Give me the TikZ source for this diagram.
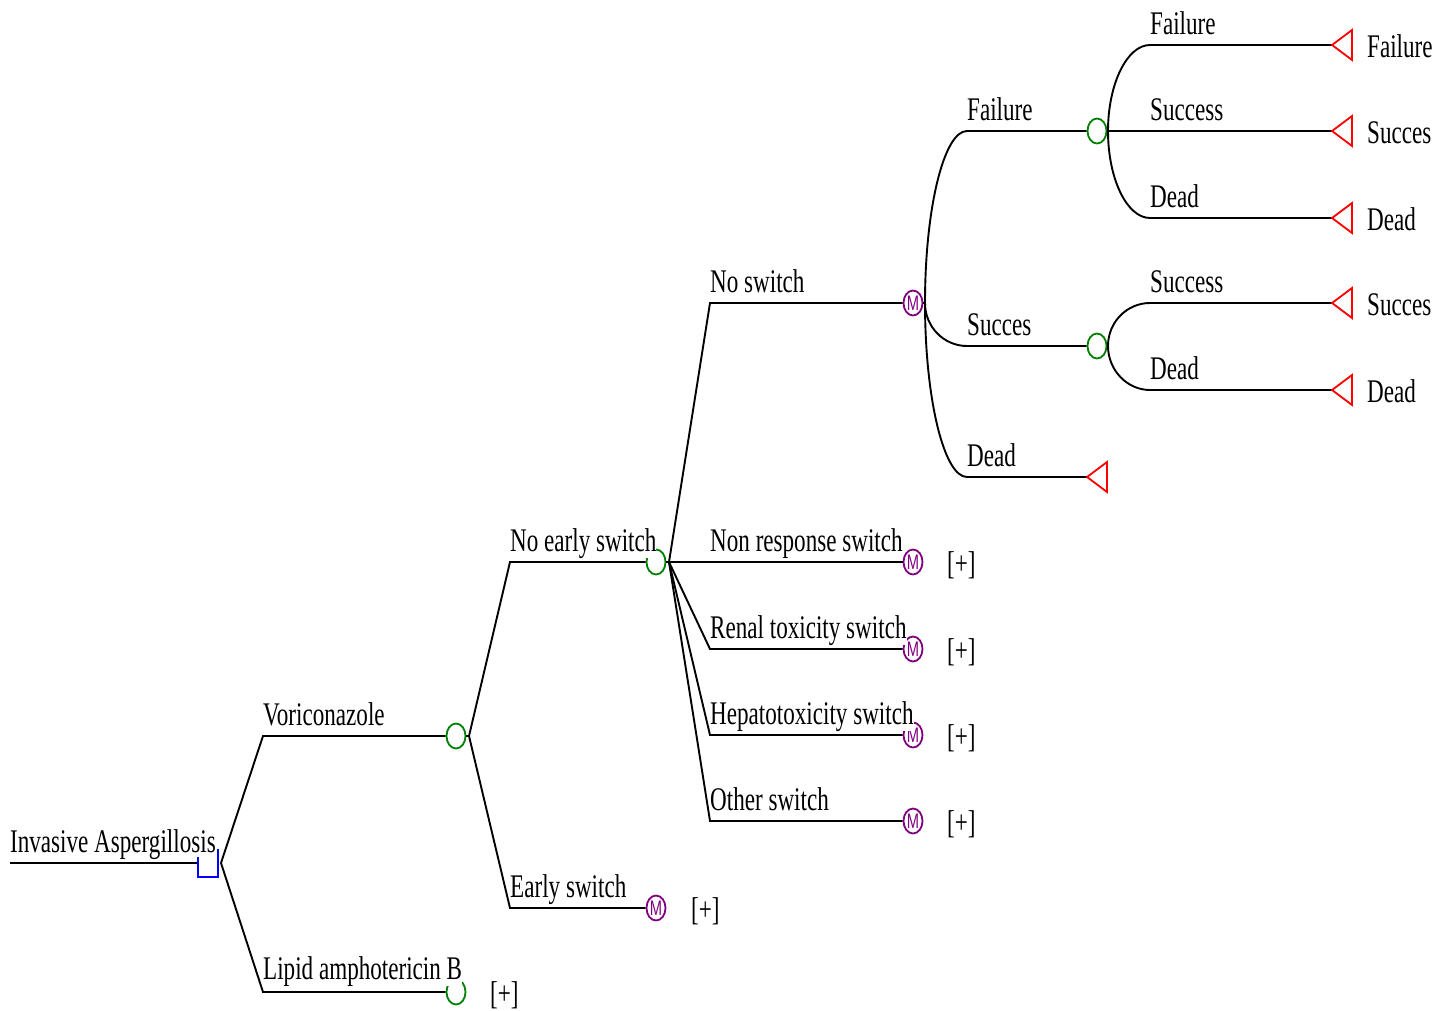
\documentclass[tikz,border=0pt]{standalone}
\usepackage{fontspec}
\setmainfont{Liberation Serif}[FakeStretch=0.70]
\newfontfamily\mfont{Liberation Sans}[FakeStretch=0.7]
\usetikzlibrary{shapes.geometric}
\definecolor{chgreen}{RGB}{0,128,0}
\definecolor{mpurple}{RGB}{128,0,128}
\definecolor{decblue}{RGB}{0,0,255}
\definecolor{termred}{RGB}{255,0,0}
\begin{document}
\begin{tikzpicture}[x=1pt,y=-1pt,
  br/.style={line width=1.9pt, black},
  chance/.style={ellipse, draw=chgreen, line width=1.8pt, minimum width=19pt, minimum height=25pt, inner sep=0pt},
  markov/.style={ellipse, draw=mpurple, line width=1.8pt, minimum width=19pt, minimum height=25pt, inner sep=0pt, text=mpurple, font=\mfont\fontsize{21}{21}\selectfont},
  lbl/.style={anchor=base west, inner sep=0pt, fill=white, font=\fontsize{33}{36}\selectfont},
  plus/.style={anchor=west, inner sep=0pt, font=\fontsize{33}{36}\selectfont},
  term/.style={draw=termred, line width=1.8pt},
  decision/.style={draw=decblue, line width=1.8pt}
]
\useasboundingbox (0,0) rectangle (1438,1010);

% coordinates
\coordinate (r0) at (10,863);
\coordinate (d0) at (198,863);
\coordinate (a0) at (221,863);
\coordinate (vor) at (263,736);
\coordinate (lip) at (263,992);
\coordinate (aV) at (469,736);
\coordinate (nes) at (510,562);
\coordinate (es) at (510,908);
\coordinate (aN) at (669,562);
\coordinate (ns) at (710,303);
\coordinate (nr) at (710,562);
\coordinate (rt) at (710,649);
\coordinate (ht) at (710,735);
\coordinate (os) at (710,821);
\coordinate (a1) at (925,303);
\coordinate (f1) at (967,131);
\coordinate (s1) at (967,346);
\coordinate (d1) at (967,477);
\coordinate (aF) at (1108,131);
\coordinate (aS) at (1108,346);
\coordinate (ff) at (1150,45);
\coordinate (fd) at (1150,218);
\coordinate (ss) at (1150,303);
\coordinate (sd) at (1150,390);
\coordinate (tFF) at (1332,45);
\coordinate (tFS) at (1332,131);
\coordinate (tFD) at (1332,218);
\coordinate (tSS) at (1332,303);
\coordinate (tSD) at (1332,390);
\coordinate (tD) at (1087,477);

% nodes
\node[chance] (cV) at (456,736) {};
\node[chance] (cL) at (456,992) {};
\node[chance] (cN) at (656,562) {};
\node[markov] (mE) at (656,908) {M};
\node[markov] (m1) at (913,303) {M};
\node[markov] (m2) at (913,562) {M};
\node[markov] (m3) at (913,649) {M};
\node[markov] (m4) at (913,735) {M};
\node[markov] (m5) at (913,821) {M};
\node[chance] (cF) at (1097,131) {};
\node[chance] (cS) at (1097,346) {};

% branches
\draw[br] (r0) -- (d0);
\draw[br] (a0) -- (vor) -- (cV.west);
\draw[br] (a0) -- (lip) -- (cL.west);
\draw[br] (cV.east) -- (aV);
\draw[br] (aV) -- (nes) -- (cN.west);
\draw[br] (aV) -- (es) -- (mE.west);
\draw[br] (cN.east) -- (aN);
\draw[br] (aN) -- (ns) -- (m1.west);
\draw[br] (aN) -- (nr) -- (m2.west);
\draw[br] (aN) -- (rt) -- (m3.west);
\draw[br] (aN) -- (ht) -- (m4.west);
\draw[br] (aN) -- (os) -- (m5.west);
\draw[br] (m1.east) -- (a1);
\draw[br] (a1) .. controls +(0,-95) and +(-23,0) .. (f1) -- (cF.west);
\draw[br] (a1) .. controls +(0,24) and +(-23,0) .. (s1) -- (cS.west);
\draw[br] (a1) .. controls +(0,96) and +(-23,0) .. (d1) -- (tD);
\draw[br] (cF.east) -- (aF);
\draw[br] (aF) .. controls +(0,-47) and +(-23,0) .. (ff) -- (tFF);
\draw[br] (aF) -- (tFS);
\draw[br] (aF) .. controls +(0,48) and +(-23,0) .. (fd) -- (tFD);
\draw[br] (cS.east) -- (aS);
\draw[br] (aS) .. controls +(0,-24) and +(-23,0) .. (ss) -- (tSS);
\draw[br] (aS) .. controls +(0,24) and +(-23,0) .. (sd) -- (tSD);

% terminals
\foreach \t in {tFF,tFS,tFD,tSS,tSD,tD}
  \draw[term] (\t) -- ++(20,-15) -- ++(0,30) -- cycle;

% labels
\node[lbl] (lIA) at (10,852) {Invasive Aspergillosis};
\node[lbl] (lV) at (263,725) {Voriconazole};
\node[lbl] (lL) at (263,979) {Lipid amphotericin B};
\node[lbl] (lNE) at (510,551) {No early switch\hspace{6pt}};
\node[lbl] (lE) at (510,897) {Early switch};
\node[lbl] (lNS) at (710,292) {No switch};
\node[lbl] (lNR) at (710,551) {Non response switch\hspace{2pt}};
\node[lbl] (lRT) at (710,638) {Renal toxicity switch};
\node[lbl] (lHT) at (710,724) {Hepatotoxicity switch};
\node[lbl] (lOS) at (710,810) {Other switch};
\node[lbl] (lF1) at (967,120) {Failure};
\node[lbl] (lS1) at (967,335) {Succes};
\node[lbl] (lD1) at (967,466) {Dead};
\node[lbl] (lFF) at (1150,34) {Failure};
\node[lbl] (lFS) at (1150,120) {Success};
\node[lbl] (lFD) at (1150,207) {Dead};
\node[lbl] (lSS) at (1150,292) {Success};
\node[lbl] (lSD) at (1150,379) {Dead};

% terminal labels
\node[lbl,fill=none] (rFF) at (1367,57) {Failure};
\node[lbl,fill=none] (rFS) at (1367,143) {Succes};
\node[lbl,fill=none] (rFD) at (1367,230) {Dead};
\node[lbl,fill=none] (rSS) at (1367,315) {Succes};
\node[lbl,fill=none] (rSD) at (1367,402) {Dead};

% collapsed markers
\node[plus] (p1) at (947,565) {[+]};
\node[plus] (p2) at (947,652) {[+]};
\node[plus] (p3) at (947,738) {[+]};
\node[plus] (p4) at (947,824) {[+]};
\node[plus] (p5) at (691,911) {[+]};
\node[plus] (p6) at (490,995) {[+]};

% decision node
\draw[decision] (198,857) -- (198,877) -- (218,877) -- (218,849);
\end{tikzpicture}
\end{document}
